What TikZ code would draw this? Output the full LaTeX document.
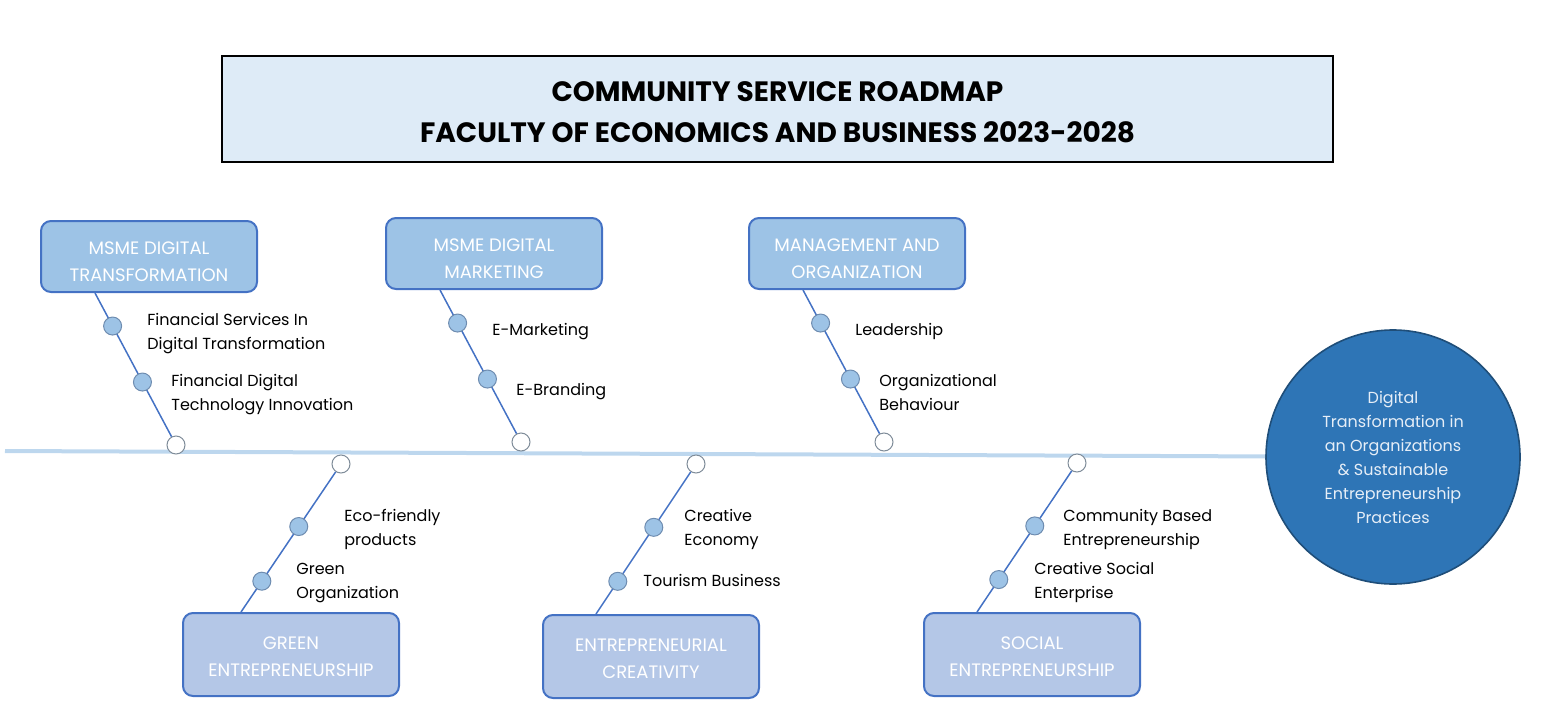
\documentclass[tikz,border=0pt]{standalone}
\usepackage{fontspec}
\setmainfont{Poppins}
\usetikzlibrary{positioning}
\definecolor{titlefill}{HTML}{DEEBF7}
\definecolor{spinecol}{HTML}{BDD7EE}
\definecolor{topfill}{HTML}{9DC3E6}
\definecolor{botfill}{HTML}{B4C7E7}
\definecolor{boxline}{HTML}{4472C4}
\definecolor{dotline}{HTML}{6E8CB0}
\definecolor{endline}{HTML}{7F8C99}
\definecolor{goalfill}{HTML}{2E75B6}
\definecolor{goalline}{HTML}{1F4E79}
\definecolor{goaltext}{HTML}{E6EEF7}
\begin{document}
\begin{tikzpicture}[x=0.5pt, y=-0.5pt,
	topic/.style={draw=boxline, line width=1pt, rounded corners=5pt,
		minimum width=108pt},
	cap/.style={yshift=#1, align=center, text=white, inner sep=0pt,
		font=\fontsize{9}{13.5}\selectfont},
	note/.style={anchor=west, align=left, inner sep=0pt,
		font=\fontsize{8}{12}\selectfont},
	twig/.style={color=boxline, line width=0.75pt},
	dot/.style={circle, draw=dotline, line width=0.5pt, fill=topfill,
		minimum size=9pt, inner sep=0pt},
	tip/.style={circle, draw=endline, line width=0.5pt, fill=white,
		minimum size=9pt, inner sep=0pt}]

	\useasboundingbox (0, 0) rectangle (1542, 728);

	% title
	\node[draw, line width=0.8pt, fill=titlefill, minimum width=555.5pt,
		minimum height=53pt, inner sep=0pt] (title) at (777.5, 109) {};
	\node[align=center, font=\fontsize{14}{20.5}\selectfont\bfseries]
		(heading) at (777.5, 112)
		{COMMUNITY SERVICE ROADMAP\\FACULTY OF ECONOMICS AND BUSINESS 2023-2028};

	% spine and goal
	\node[circle, draw=goalline, line width=0.8pt, fill=goalfill,
		minimum size=127pt, inner sep=0pt, align=center, text=goaltext,
		font=\fontsize{8}{12}\selectfont]
		(goal) at (1393, 457)
		{Digital\\Transformation in\\an Organizations\\\& Sustainable\\Entrepreneurship\\Practices};
	\coordinate (s0) at (5, 451);
	\draw[color=spinecol, line width=2pt] (s0) -- (goal);

	\node[tip] (e1) at (176, 445) {};
	\node[tip] (e2) at (521, 442) {};
	\node[tip] (e3) at (884, 442) {};
	\node[tip] (e4) at (341, 464) {};
	\node[tip] (e5) at (696, 464) {};
	\node[tip] (e6) at (1077, 463) {};

	% cause boxes
	\node[topic, fill=topfill, minimum height=35.5pt,
		label={[cap=-2.5pt]center:MSME DIGITAL\\TRANSFORMATION}] (b1) at (149, 256.5) {};
	\node[topic, fill=topfill, minimum height=35.5pt,
		label={[cap=-2.5pt]center:MSME DIGITAL\\MARKETING}] (b2) at (494, 253.5) {};
	\node[topic, fill=topfill, minimum height=35.5pt,
		label={[cap=-2.5pt]center:MANAGEMENT AND\\ORGANIZATION}] (b3) at (857, 253.5) {};
	\node[topic, fill=botfill, minimum height=41.5pt,
		label={[cap=-1pt]center:GREEN\\ENTREPRENEURSHIP}] (b4) at (291, 654.5) {};
	\node[topic, fill=botfill, minimum height=41.5pt,
		label={[cap=-1pt]center:ENTREPRENEURIAL\\CREATIVITY}] (b5) at (651, 656.5) {};
	\node[topic, fill=botfill, minimum height=41.5pt,
		label={[cap=-1pt]center:SOCIAL\\ENTREPRENEURSHIP}] (b6) at (1032, 654.5) {};

	\coordinate (t1) at ([xshift=27.5pt]b1.south west);
	\coordinate (t2) at ([xshift=27.5pt]b2.south west);
	\coordinate (t3) at ([xshift=27.5pt]b3.south west);
	\coordinate (t4) at ([xshift=29.5pt]b4.north west);
	\coordinate (t5) at ([xshift=27pt]b5.north west);
	\coordinate (t6) at ([xshift=27pt]b6.north west);

	% branches
	\draw[twig] (t1) -- (e1) node[dot, pos=0.23] (d11) {} node[dot, pos=0.62] (d12) {};
	\draw[twig] (t2) -- (e2) node[dot, pos=0.23] (d21) {} node[dot, pos=0.62] (d22) {};
	\draw[twig] (t3) -- (e3) node[dot, pos=0.23] (d31) {} node[dot, pos=0.62] (d32) {};
	\draw[twig] (e4) -- (t4) node[dot, pos=0.39] (d41) {} node[dot, pos=0.78] (d42) {};
	\draw[twig] (e5) -- (t5) node[dot, pos=0.39] (d51) {} node[dot, pos=0.77] (d52) {};
	\draw[twig] (e6) -- (t6) node[dot, pos=0.39] (d61) {} node[dot, pos=0.77] (d62) {};

	% labels
	\node[note] (l11) at (147, 334) {Financial Services In\\Digital Transformation};
	\node[note] (l12) at (171, 395) {Financial Digital\\Technology Innovation};
	\node[note] (l21) at (492, 332) {E-Marketing};
	\node[note] (l22) at (516, 392) {E-Branding};
	\node[note] (l31) at (855, 331) {Leadership};
	\node[note] (l32) at (879, 392) {Organizational\\Behaviour};
	\node[note] (l41) at (344, 529) {Eco-friendly\\products};
	\node[note] (l42) at (296, 583) {Green\\Organization};
	\node[note] (l51) at (684, 529) {Creative\\Economy};
	\node[note] (l52) at (643, 580) {Tourism Business};
	\node[note] (l61) at (1063, 529) {Community Based\\Entrepreneurship};
	\node[note] (l62) at (1034, 582) {Creative Social\\Enterprise};
\end{tikzpicture}
\end{document}
